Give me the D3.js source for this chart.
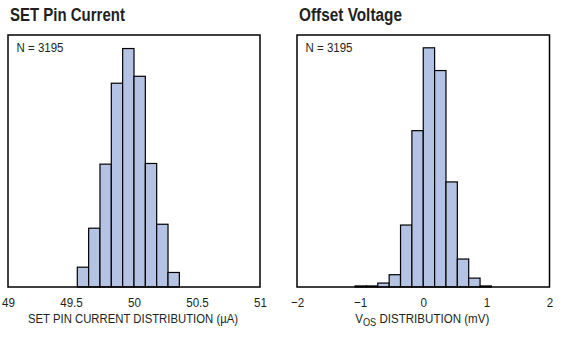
<!DOCTYPE html>
<html>
<head>
<meta charset="utf-8">
<script src="https://cdn.jsdelivr.net/npm/d3@7"></script>
<style>
  html, body { margin: 0; padding: 0; background: #fff; }
  svg { display: block; }
  text { font-family: "Liberation Sans", Arial, sans-serif; fill: #231f20; }
</style>
</head>
<body>
<svg id="chart" width="577" height="355"></svg>
<script>
// ---- Data ----
// Left: SET pin current histogram (bin start edges in µA, width 0.09)
const setBinStarts = [49.55, 49.64, 49.73, 49.82, 49.91, 50.00, 50.09, 50.18, 50.27];
const setBinWidth = 0.09;
const setCounts = [60, 178, 372, 617, 722, 638, 374, 190, 44];
const setTicks = [49, 49.5, 50, 50.5, 51];
const setYMax = 763;

// Right: offset voltage histogram (bin start edges in mV, width 0.18)
const vosBinStarts = [-1.08, -0.90, -0.72, -0.54, -0.36, -0.18, 0.00, 0.18, 0.36, 0.54, 0.72, 0.90];
const vosBinWidth = 0.18;
const vosCounts = [4, 4, 15, 47, 237, 598, 915, 828, 402, 107, 34, 4];
const vosTicks = [-2, -1, 0, 1, 2];
const vosYMax = 964;

const sampleLabel = "N = 3195";

const svg = d3.select("#chart");
const barFill = "#b4c3e3";

// horizontally condense a text element about its anchor x
function condense(sel, ax, target, factor) {
  sel.each(function () {
    const w = this.getBBox().width;
    const f = target ? target / w : factor;
    d3.select(this).attr("transform",
      `translate(${ax},0) scale(${f},1) translate(${-ax},0)`);
  });
}

function panel(opts) {
  const x = d3.scaleLinear().domain(opts.domain).range([opts.left, opts.right]);
  const y = d3.scaleLinear().domain([0, opts.yMax]).range([opts.bottom, opts.top]);
  const g = svg.append("g");

  // title
  const title = g.append("text")
    .attr("x", opts.titleX).attr("y", 21)
    .style("font-size", "18.5px").style("font-weight", "bold")
    .text(opts.title);
  condense(title, opts.titleX, opts.titleW);

  // bars
  const data = opts.starts.map((s, i) => ({ x0: s, x1: s + opts.width, c: opts.counts[i] }));
  g.selectAll("rect.bar").data(data).enter().append("rect")
    .attr("class", "bar")
    .attr("x", d => x(d.x0))
    .attr("width", d => x(d.x1) - x(d.x0))
    .attr("y", d => y(d.c))
    .attr("height", d => y(0) - y(d.c))
    .attr("fill", barFill)
    .attr("stroke", "#000")
    .attr("stroke-width", 1.2);

  // frame
  g.append("rect")
    .attr("x", opts.left).attr("y", opts.top)
    .attr("width", opts.right - opts.left).attr("height", opts.bottom - opts.top)
    .attr("fill", "none").attr("stroke", "#000").attr("stroke-width", 1.5);

  // N label
  const nx = opts.left + opts.nOff;
  const nl = g.append("text")
    .attr("x", nx).attr("y", 52.5)
    .style("font-size", "13.5px")
    .text(sampleLabel);
  condense(nl, nx, 47);

  // x axis (labels only)
  const axis = d3.axisBottom(x).tickValues(opts.ticks).tickSize(0).tickPadding(0)
    .tickFormat(opts.fmt);
  const ag = g.append("g").attr("transform", `translate(0,${opts.bottom})`).call(axis);
  ag.select(".domain").remove();
  ag.selectAll("text")
    .attr("y", 19.6).attr("dy", null)
    .style("font-size", "13.2px")
    .style("font-family", "\"Liberation Sans\", Arial, sans-serif")
    .attr("fill", "#231f20")
    .each(function () { condense(d3.select(this), 0, null, 0.88); });

  // axis title
  const cx = (opts.left + opts.right) / 2 + opts.axisTitleShift;
  const t = g.append("text")
    .attr("x", cx).attr("y", 322.7)
    .attr("text-anchor", "middle")
    .style("font-size", "13.2px");
  opts.axisTitle(t);
  condense(t, cx, opts.axisTitleW);
}

panel({
  title: "SET Pin Current", titleX: 10, titleW: 115, nOff: 8.5,
  domain: [49, 51], left: 8, right: 260, top: 35, bottom: 287,
  yMax: setYMax, starts: setBinStarts, width: setBinWidth, counts: setCounts,
  ticks: setTicks, fmt: d3.format("~g"),
  axisTitle: t => t.text("SET PIN CURRENT DISTRIBUTION (\u00b5A)"),
  axisTitleW: 210, axisTitleShift: -1
});

panel({
  title: "Offset Voltage", titleX: 299, titleW: 103, nOff: 8.5,
  domain: [-2, 2], left: 297, right: 549.5, top: 35, bottom: 287,
  yMax: vosYMax, starts: vosBinStarts, width: vosBinWidth, counts: vosCounts,
  ticks: vosTicks, fmt: d => (d < 0 ? "\u2212" + Math.abs(d) : String(d)),
  axisTitle: t => {
    t.append("tspan").text("V");
    t.append("tspan").attr("dy", 3).style("font-size", "10.5px").text("OS");
    t.append("tspan").attr("dy", -3).text(" DISTRIBUTION (mV)");
  },
  axisTitleW: 134, axisTitleShift: -1
});
</script>
</body>
</html>
